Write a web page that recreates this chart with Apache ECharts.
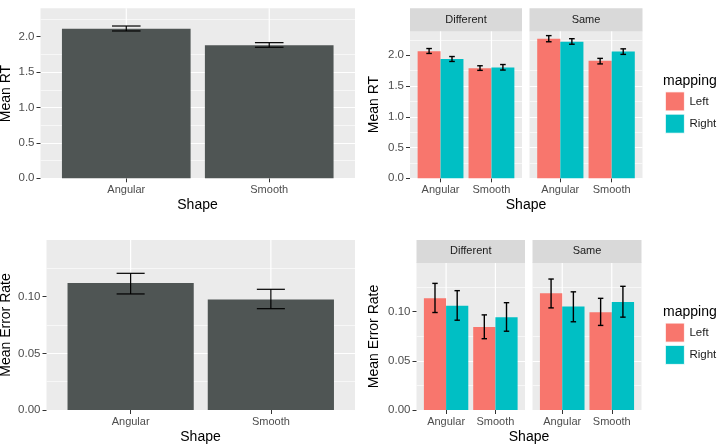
<!DOCTYPE html>
<html>
<head>
<meta charset="utf-8">
<script src="https://cdn.jsdelivr.net/npm/echarts@6/dist/echarts.min.js"></script>
<style>html,body{margin:0;padding:0;background:#fff;}#c{width:720px;height:448px;}</style>
</head>
<body>
<div id="c"></div>
<script>
// ---- data ----
const shapes = ['Angular', 'Smooth'];
const facets = ['Different', 'Same'];
const mappings = ['Left', 'Right'];
const rtTicks = [0, 0.5, 1.0, 1.5, 2.0];
const errTicks = [0, 0.05, 0.10];

const rtMean = [2.11, 1.88];
const rtLow = [2.08, 1.85];
const rtHigh = [2.15, 1.915];

const errMean = [0.112, 0.0974];
const errLow = [0.1024, 0.0894];
const errHigh = [0.1206, 0.1065];

// faceted: [facet][shape]
const rtLeftMean = [[2.065, 1.79], [2.27, 1.91]];
const rtLeftLow = [[2.03, 1.755], [2.22, 1.86]];
const rtLeftHigh = [[2.11, 1.83], [2.32, 1.95]];
const rtRightMean = [[1.94, 1.80], [2.22, 2.06]];
const rtRightLow = [[1.90, 1.76], [2.18, 2.015]];
const rtRightHigh = [[1.98, 1.85], [2.27, 2.105]];

const erLeftMean = [[0.1134, 0.0842], [0.1185, 0.0993]];
const erLeftLow = [[0.099, 0.0724], [0.1037, 0.0859]];
const erLeftHigh = [[0.1286, 0.0966], [0.133, 0.1134]];
const erRightMean = [[0.106, 0.0943], [0.105, 0.1098]];
const erRightLow = [[0.0912, 0.080], [0.0896, 0.0943]];
const erRightHigh = [[0.1212, 0.109], [0.120, 0.1256]];

// ---- styling / layout ----
const FONT = "'Liberation Sans', Arial, Helvetica, sans-serif";
const PANEL_BG = '#EBEBEB';
const STRIP_BG = '#D9D9D9';
const BAR_GREY = '#4f5554';
const COL_LEFT = '#F8766D';
const COL_RIGHT = '#00BFC4';
const TICK_TXT = '#4D4D4D';

const grids = [
  { left: 40.5, top: 8.3, width: 314.5, height: 170 },     // 0 RT overall
  { left: 410, top: 30.7, width: 112, height: 147.6 },      // 1 RT Different
  { left: 529.5, top: 30.7, width: 113, height: 147.6 },    // 2 RT Same
  { left: 46.5, top: 240, width: 308.5, height: 170 },      // 3 Err overall
  { left: 416.5, top: 262.3, width: 108.5, height: 147.7 }, // 4 Err Different
  { left: 532.5, top: 262.3, width: 109, height: 147.7 }    // 5 Err Same
];

const catVals = shapes.map((s, i) => i + 1);

function xAx(gi) {
  return {
    gridIndex: gi, type: 'value', min: 0.4, max: 2.6,
    axisLine: { show: false },
    axisTick: { show: true, customValues: catVals, length: 4, lineStyle: { color: '#333', width: 1 } },
    axisLabel: { customValues: catVals, formatter: v => shapes[Math.round(v) - 1] || '', fontSize: 11, color: TICK_TXT, margin: 6, fontFamily: FONT },
    splitLine: { show: false }
  };
}
function yAx(gi, max, interval, ticks, dec, showLabels) {
  return {
    gridIndex: gi, type: 'value', min: 0, max: max, interval: interval,
    axisLine: { show: false },
    axisTick: { show: showLabels, customValues: ticks, length: 4, lineStyle: { color: '#333', width: 1 } },
    axisLabel: { show: showLabels, customValues: ticks, formatter: v => v.toFixed(dec), fontSize: 11.5, color: TICK_TXT, margin: 6, fontFamily: FONT },
    splitLine: { show: true, showMaxLine: false, lineStyle: { color: '#fff', width: 1.2 } },
    minorTick: { show: false, splitNumber: 2 },
    minorSplitLine: { show: true, lineStyle: { color: '#fff', width: 0.6 } }
  };
}

function vGrid(gi) {
  return {
    type: 'custom', xAxisIndex: gi, yAxisIndex: gi, z: 1, silent: true,
    data: catVals.map(v => [v, 0]),
    renderItem: (p, api) => {
      const x = api.coord([api.value(0), 0])[0];
      const cs = p.coordSys;
      return { type: 'line', shape: { x1: x, y1: cs.y, x2: x, y2: cs.y + cs.height }, style: { stroke: '#fff', lineWidth: 1.2 } };
    }
  };
}

function errSeries(gi, low, high, off, cap, lw) {
  return {
    type: 'custom', xAxisIndex: gi, yAxisIndex: gi, z: 5, silent: true,
    data: catVals.map((v, i) => [v, low[i], high[i]]),
    encode: { x: 0, y: [1, 2] },
    renderItem: (p, api) => {
      const x = api.value(0) + off;
      const pH = api.coord([x, api.value(2)]);
      const pL = api.coord([x, api.value(1)]);
      const hw = api.size([cap, 0])[0] / 2;
      const st = { stroke: '#000', lineWidth: lw };
      return {
        type: 'group', children: [
          { type: 'line', shape: { x1: pH[0], y1: pH[1], x2: pL[0], y2: pL[1] }, style: st },
          { type: 'line', shape: { x1: pH[0] - hw, y1: pH[1], x2: pH[0] + hw, y2: pH[1] }, style: st },
          { type: 'line', shape: { x1: pL[0] - hw, y1: pL[1], x2: pL[0] + hw, y2: pL[1] }, style: st }
        ]
      };
    }
  };
}

function barSeries(gi, name, vals, color, width) {
  return {
    type: 'bar', name: name, xAxisIndex: gi, yAxisIndex: gi, z: 2,
    data: catVals.map((v, i) => [v, vals[i]]),
    barWidth: width, barGap: '0%',
    itemStyle: { color: color },
    emphasis: { disabled: true }
  };
}

const xAxes = grids.map((g, i) => xAx(i));
const yAxes = [
  yAx(0, 2.4, 0.5, rtTicks, 1, true),
  yAx(1, 2.4, 0.5, rtTicks, 1, true),
  yAx(2, 2.4, 0.5, rtTicks, 1, false),
  yAx(3, 0.15, 0.05, errTicks, 2, true),
  yAx(4, 0.15, 0.05, errTicks, 2, true),
  yAx(5, 0.15, 0.05, errTicks, 2, false)
];

const series = [];
grids.forEach((g, i) => series.push(vGrid(i)));
// overall panels
series.push(barSeries(0, 'RT', rtMean, BAR_GREY, '90%'));
series.push(errSeries(0, rtLow, rtHigh, 0, 0.2, 1.2));
series.push(barSeries(3, 'Error', errMean, BAR_GREY, '90%'));
series.push(errSeries(3, errLow, errHigh, 0, 0.2, 1.2));
// faceted panels
facets.forEach((f, fi) => {
  const gRT = 1 + fi, gER = 4 + fi;
  series.push(barSeries(gRT, mappings[0], rtLeftMean[fi], COL_LEFT, '45%'));
  series.push(barSeries(gRT, mappings[1], rtRightMean[fi], COL_RIGHT, '45%'));
  series.push(errSeries(gRT, rtLeftLow[fi], rtLeftHigh[fi], -0.225, 0.11, 1.4));
  series.push(errSeries(gRT, rtRightLow[fi], rtRightHigh[fi], 0.225, 0.11, 1.4));
  series.push(barSeries(gER, mappings[0], erLeftMean[fi], COL_LEFT, '45%'));
  series.push(barSeries(gER, mappings[1], erRightMean[fi], COL_RIGHT, '45%'));
  series.push(errSeries(gER, erLeftLow[fi], erLeftHigh[fi], -0.225, 0.11, 1.4));
  series.push(errSeries(gER, erRightLow[fi], erRightHigh[fi], 0.225, 0.11, 1.4));
});

// strips, axis titles, legend titles
const graphics = [];
function strip(g, top, h, text) {
  graphics.push({ type: 'rect', z: 10, shape: { x: g.left, y: top, width: g.width, height: h + 0.6 }, style: { fill: STRIP_BG } });
  graphics.push({ type: 'text', z: 11, x: g.left + g.width / 2, y: top + h / 2, style: { text: text, align: 'center', verticalAlign: 'middle', font: '11px ' + FONT, fill: '#1A1A1A' } });
}
strip(grids[1], 8.3, 22.4, facets[0]);
strip(grids[2], 8.3, 22.4, facets[1]);
strip(grids[4], 240, 22.3, facets[0]);
strip(grids[5], 240, 22.3, facets[1]);

function title(x, y, text, rot) {
  graphics.push({ type: 'text', z: 11, x: x, y: y, rotation: rot ? Math.PI / 2 : 0, style: { text: text, align: 'center', verticalAlign: 'middle', font: '14px ' + FONT, fill: '#000' } });
}
title(6, 93.5, 'Mean RT', true);
title(374, 104.5, 'Mean RT', true);
title(6, 325, 'Mean Error Rate', true);
title(374, 336.5, 'Mean Error Rate', true);
title(197.5, 205.5, 'Shape');
title(526, 205.5, 'Shape');
title(200.5, 437, 'Shape');
title(529, 437, 'Shape');
graphics.push({ type: 'text', z: 11, x: 663, y: 81, style: { text: 'mapping', align: 'left', verticalAlign: 'middle', font: '14px ' + FONT, fill: '#000' } });
graphics.push({ type: 'text', z: 11, x: 663, y: 311.7, style: { text: 'mapping', align: 'left', verticalAlign: 'middle', font: '14px ' + FONT, fill: '#000' } });

function legend(top) {
  return {
    data: mappings, orient: 'vertical', left: 665, top: top, padding: 0,
    itemWidth: 19, itemHeight: 19, itemGap: 2.5, icon: 'rect', selectedMode: false,
    itemStyle: { borderColor: '#fff', borderWidth: 0.8 },
    textStyle: { fontSize: 11.5, color: '#1A1A1A', fontFamily: FONT }
  };
}

const chart = echarts.init(document.getElementById('c'), null, { renderer: 'canvas' });
chart.setOption({
  animation: false,
  textStyle: { fontFamily: FONT },
  grid: grids.map(g => Object.assign({ show: true, backgroundColor: PANEL_BG, borderWidth: 0, containLabel: false }, g)),
  xAxis: xAxes,
  yAxis: yAxes,
  legend: [legend(91.5), legend(322.7)],
  graphic: { elements: graphics },
  series: series
});
</script>
</body>
</html>
